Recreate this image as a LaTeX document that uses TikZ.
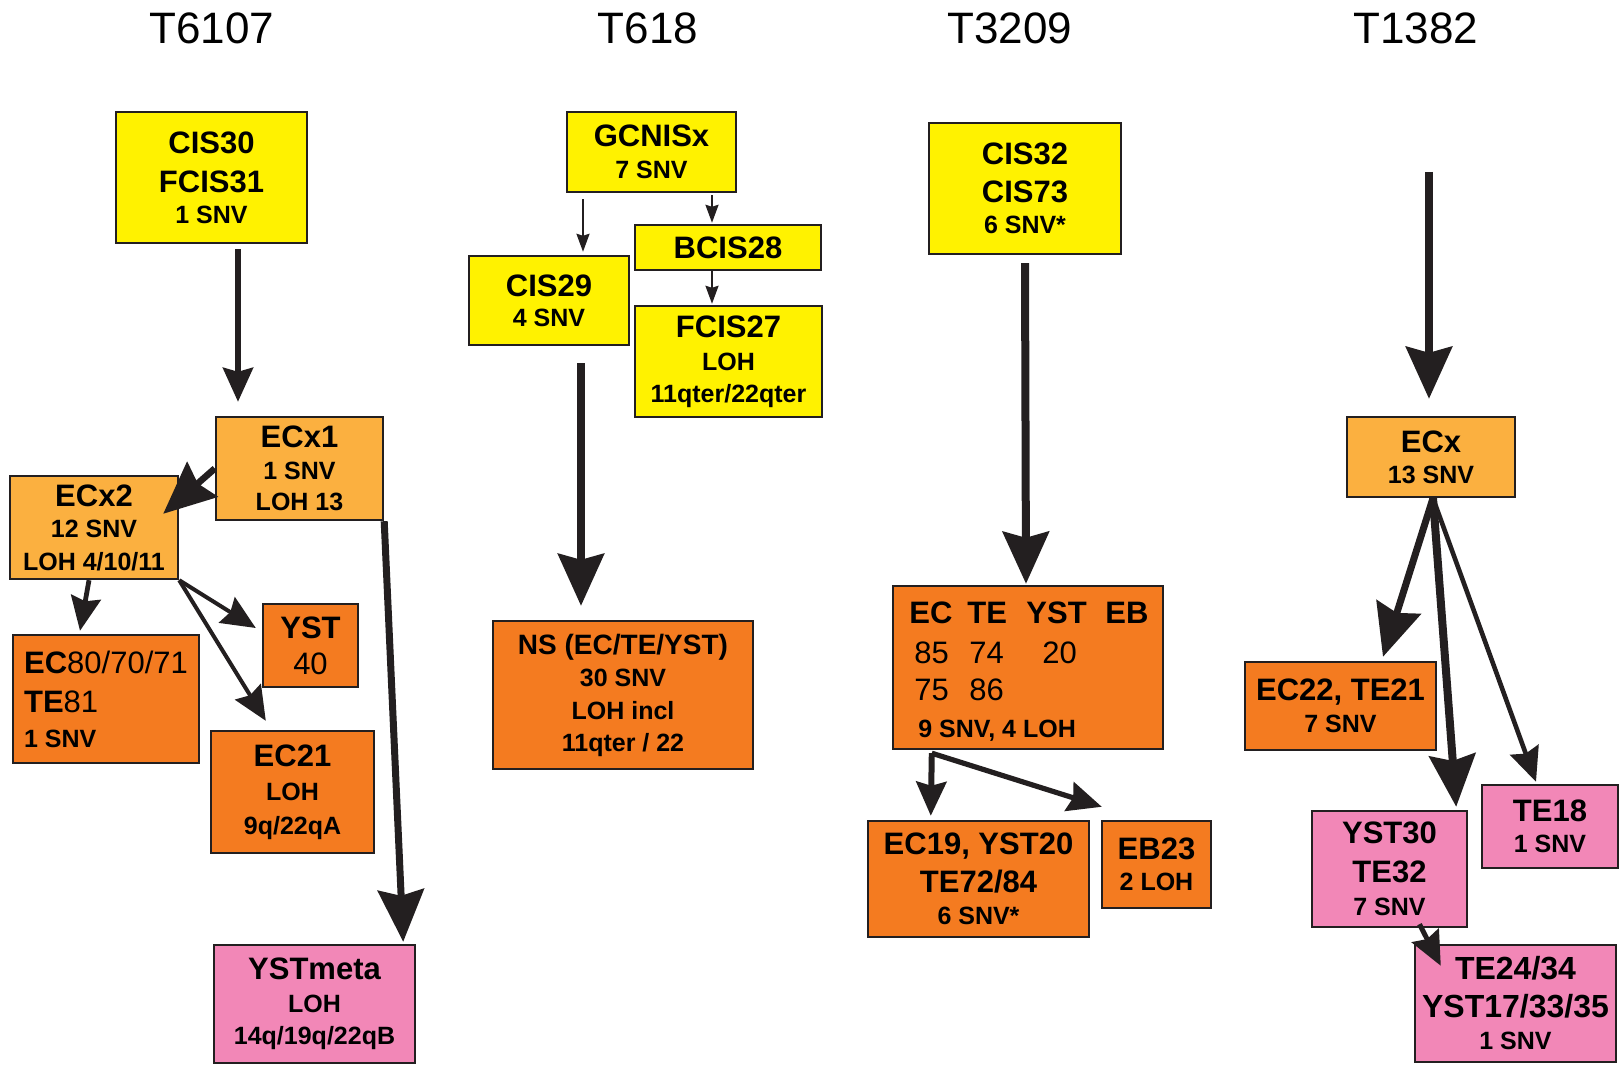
\documentclass[tikz,border=0pt]{standalone}
\usepackage{fontspec}
\setmainfont{Liberation Sans}
\usetikzlibrary{arrows.meta}
\definecolor{lc}{HTML}{231F20}
\definecolor{cyel}{HTML}{FFF200}
\definecolor{corl}{HTML}{FBB040}
\definecolor{cord}{HTML}{F47B20}
\definecolor{cpnk}{HTML}{F287B7}
\newcommand{\sm}{\fontsize{12.5}{15}\selectfont}
\newcommand{\rg}{\mdseries}
\tikzset{
  box/.style={draw=lc, line width=1.2pt, inner sep=0pt, align=center,
    font=\bfseries\fontsize{15.5}{19.5}\selectfont},
  wh/.style 2 args={minimum width=#1*0.5pt, minimum height=#2*0.5pt},
  ybox/.style={box, fill=cyel},
  lbox/.style={box, fill=corl},
  obox/.style={box, fill=cord},
  pbox/.style={box, fill=cpnk},
  arrL/.style={draw=lc, line width=3.6pt, -{Stealth[length=26pt,width=23pt,inset=3pt]}},
  arrM/.style={draw=lc, line width=2.4pt, -{Stealth[length=17pt,width=15pt,inset=2pt]}},
  arrS/.style={draw=lc, line width=1pt, -{Stealth[length=9pt,width=6.5pt,inset=1pt]}},
  ttl/.style={font=\fontsize{22}{26}\selectfont},
  txt/.style={inner sep=0pt, anchor=base west, font=\bfseries\fontsize{15.5}{19.5}\selectfont},
}
\begin{document}
\begin{tikzpicture}[x=0.5pt, y=-0.5pt]
\useasboundingbox (0,0) rectangle (1619,1065);
% titles
\node[ttl] (tA) at (212,28.5) {T6107};
\node[ttl] (tB) at (648,28.5) {T618};
\node[ttl] (tC) at (1010,28.5) {T3209};
\node[ttl] (tD) at (1416,28.5) {T1382};

% T6107
\node[ybox, wh={191}{131}] (cis30) at (211.5,177.5) {CIS30\\FCIS31\\[-4pt]{\sm 1 SNV}};
\node[lbox, wh={167}{103}] (ecx1) at (299.5,468.5) {ECx1\\[-3.5pt]{\sm 1 SNV}\\[-4pt]{\sm LOH 13}};
\node[lbox, wh={168}{103}] (ecx2) at (94,527.5) {ECx2\\[-4pt]{\sm 12 SNV}\\[-3pt]{\sm LOH 4/10/11}};
\node[obox, wh={186}{128}, align=left] (ec80) at (106,699) {EC{\rg 80/70/71}\\TE{\rg 81}\\[-2pt]{\sm 1 SNV}};
\node[obox, wh={95}{83}] (yst) at (310.5,645.5) {YST\\[-1.5pt]{\rg 40}};
\node[obox, wh={163}{122}] (ec21) at (292.5,792) {EC21\\[-2.5pt]{\sm LOH}\\[-2.5pt]{\sm 9q/22qA}};
\node[pbox, wh={201}{118}] (ystmeta) at (314.5,1004) {YSTmeta\\[-3pt]{\sm LOH}\\[-3.5pt]{\sm 14q/19q/22qB}};

% T618
\node[ybox, wh={169}{80}] (gcnisx) at (651.5,152) {GCNISx\\[-3.5pt]{\sm 7 SNV}};
\node[ybox, wh={160}{89}] (cis29) at (549,300.5) {CIS29\\[-4.5pt]{\sm 4 SNV}};
\node[ybox, wh={186}{45}] (bcis28) at (728,247.5) {BCIS28};
\node[ybox, wh={187}{111}] (fcis27) at (728.5,361.5) {FCIS27\\[-3pt]{\sm LOH}\\[-3.5pt]{\sm 11qter/22qter}};
\node[obox, wh={260}{148}, font=\bfseries\fontsize{14}{19.5}\selectfont] (ns) at (623,695)
  {NS (EC/TE/YST)\\[-3.5pt]{\sm 30 SNV}\\[-3pt]{\sm LOH incl}\\[-3.5pt]{\sm 11qter / 22}};

% T3209
\node[ybox, wh={192}{131}] (cis32) at (1025,188.5) {CIS32\\[-0.5pt]CIS73\\[-4pt]{\sm 6 SNV*}};
\node[obox, wh={270}{163}] (ecbox) at (1028,667.5) {};
\node[txt] (ecHead) at (909,623) {\makebox[29pt][l]{EC}\makebox[29.5pt][l]{TE}\makebox[39.5pt][l]{YST}EB};
\node[txt, font=\mdseries\fontsize{15.5}{19.5}\selectfont] (ecRowA) at (914,663) {\makebox[27.5pt][l]{85}\makebox[36.5pt][l]{74}20};
\node[txt, font=\mdseries\fontsize{15.5}{19.5}\selectfont] (ecRowB) at (914,700) {\makebox[27.5pt][l]{75}86};
\node[txt] (ecNote) at (918,737) {\sm 9 SNV, 4 LOH};
\node[obox, wh={221}{116}] (ec19) at (978.5,879) {EC19, YST20\\[-0.5pt]TE72/84\\[-3.5pt]{\sm 6 SNV*}};
\node[obox, wh={109}{87}] (eb23) at (1156.5,864.5) {EB23\\[-4pt]{\sm 2 LOH}};

% T1382
\coordinate (top) at (1429,172);
\node[lbox, wh={168}{80}] (ecx) at (1431,457) {ECx\\[-4pt]{\sm 13 SNV}};
\node[obox, wh={191}{88}] (ec22) at (1340.5,706) {EC22, TE21\\[-3.5pt]{\sm 7 SNV}};
\node[pbox, wh={155}{116}] (yst30) at (1389.5,869) {YST30\\TE32\\[-3pt]{\sm 7 SNV}};
\node[pbox, wh={136}{83}] (te18) at (1550,826.5) {TE18\\[-4pt]{\sm 1 SNV}};
\node[pbox, wh={201}{117}, font=\bfseries\fontsize{16}{19.5}\selectfont] (te24) at (1515.5,1003.5) {TE24/34\\[-0.5pt]YST17/33/35\\[-3.5pt]{\sm 1 SNV}};

% connectors
\draw[arrM, line width=2.8pt] ([xshift=13.25pt,yshift=-2.5pt]cis30.south) -- ([xshift=-30.75pt,yshift=7pt]ecx1.north);
\draw[arrL, line width=3.3pt] (ecx1.west) -- ([xshift=-8pt,yshift=-19.5pt]ecx2.north east);
\draw[arrM] ([xshift=-2.5pt]ecx2.south) -- ([xshift=-13pt,yshift=1.5pt]ec80.north);
\draw[arrM, line width=2pt] (ecx2.south east) -- ([xshift=-3pt,yshift=8.75pt]yst.west);
\draw[arrM, line width=2pt] (ecx2.south east) -- ([xshift=28pt,yshift=4.5pt]ec21.north west);
\draw[arrL, line width=3.5pt] (ecx1.south east) -- ([xshift=-6.5pt,yshift=1pt]ystmeta.north east);

\draw[arrS] ([xshift=-34.25pt,yshift=-3pt]gcnisx.south) -- ([xshift=17pt,yshift=1.5pt]cis29.north);
\draw[arrS] ([xshift=30.25pt,yshift=-1pt]gcnisx.south) -- ([xshift=-8pt,yshift=0.5pt]bcis28.north);
\draw[arrS] ([xshift=-8pt]bcis28.south) -- ([xshift=-8.25pt,yshift=0.5pt]fcis27.north);
\draw[arrL] ([xshift=16pt,yshift=-8.5pt]cis29.south) -- ([xshift=-21pt,yshift=7pt]ns.north);

\draw[arrL, line width=4pt] ([yshift=-4pt]cis32.south) -- ([xshift=-1pt,yshift=0.5pt]ecbox.north);
\draw[arrM, line width=3pt] ([xshift=20pt,yshift=-1.5pt]ecbox.south west) -- ([xshift=32pt,yshift=2pt]ec19.north west);
\draw[arrM, line width=2.6pt] ([xshift=20pt,yshift=-1.5pt]ecbox.south west) -- ([xshift=0.5pt,yshift=6.5pt]eb23.north west);

\draw[arrL, line width=3.8pt] (top) -- ([xshift=-1pt,yshift=8.5pt]ecx.north);
\draw[arrL, line width=3.5pt] ([xshift=1pt]ecx.south) -- ([xshift=21.25pt,yshift=2pt]ec22.north);
\draw[arrL, line width=4pt] ([xshift=1pt]ecx.south) -- ([xshift=-6pt,yshift=1.5pt]yst30.north east);
\draw[arrM, line width=2.3pt] ([xshift=1pt]ecx.south) -- ([xshift=-7pt,yshift=1pt]te18.north);
\draw[arrM, line width=2.5pt] ([xshift=15pt,yshift=2pt]yst30.south) -- ([xshift=13.5pt,yshift=-11pt]te24.north west);
\end{tikzpicture}
\end{document}
